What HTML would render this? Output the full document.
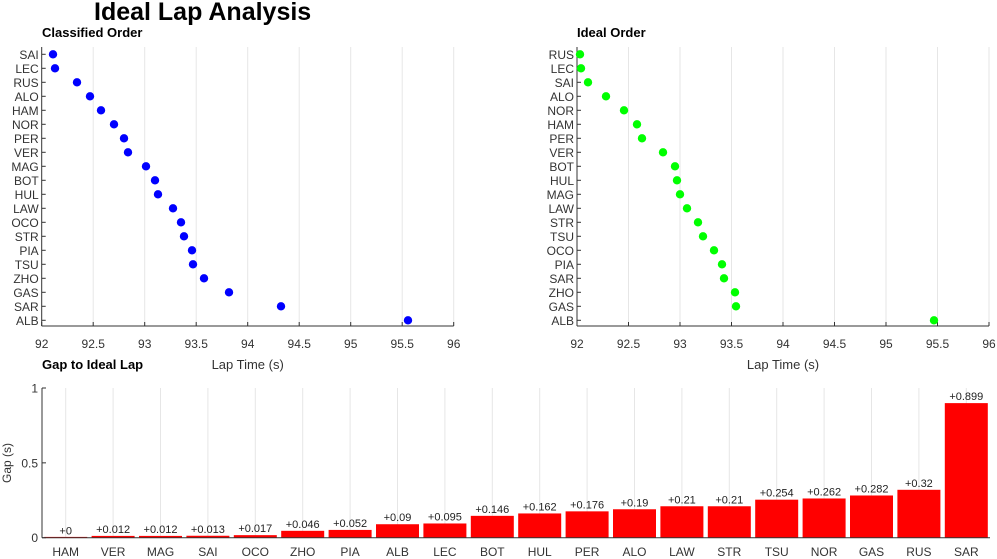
<!DOCTYPE html>
<html><head><meta charset="utf-8"><style>
html,body{margin:0;padding:0;background:#fff;}
svg{display:block;font-family:"Liberation Sans",sans-serif;}
</style></head><body>
<svg width="997" height="559" viewBox="0 0 997 559" xmlns="http://www.w3.org/2000/svg">
<rect width="997" height="559" fill="#fff"/>
<text x="94" y="20" font-size="25" font-weight="bold" fill="#000">Ideal Lap Analysis</text>
<text x="42" y="37" font-size="13" font-weight="bold" fill="#000">Classified Order</text>
<text x="577" y="37" font-size="13" font-weight="bold" fill="#000">Ideal Order</text>
<text x="42" y="369" font-size="13" font-weight="bold" fill="#000">Gap to Ideal Lap</text>
<g id="plots"></g>
</svg>
<script>
const NS="http://www.w3.org/2000/svg";
const g=document.getElementById('plots');
function el(t,a,txt){const e=document.createElementNS(NS,t);for(const k in a)e.setAttribute(k,a[k]);if(txt!==undefined)e.textContent=txt;g.appendChild(e);return e;}
function dot(x0,names,xs,color){
  const x92=x0, sc=103, top=47, bot=326;
  for(let i=1;i<=8;i++){const x=x92+i*sc/2;el('line',{x1:x,x2:x,y1:top,y2:bot,stroke:'#e6e6e6','stroke-width':1});}
  el('line',{x1:x92,x2:x92,y1:top,y2:bot,stroke:'#333'});
  el('line',{x1:x92,x2:x92+4*sc,y1:bot,y2:bot,stroke:'#333'});
  for(let i=0;i<=8;i++){const x=x92+i*sc/2;el('line',{x1:x,x2:x,y1:bot,y2:bot-4,stroke:'#333'});
    el('text',{x:x,y:348,'font-size':12,'text-anchor':'middle',fill:'#333'},String(92+i/2));}
  names.forEach((n,i)=>{const y=54.3+i*14.0;
    el('line',{x1:x92,x2:x92+4,y1:y,y2:y,stroke:'#333'});
    el('text',{x:x92-3,y:y+4.5,'font-size':12,'text-anchor':'end',fill:'#333'},n);
    el('circle',{cx:xs[i],cy:y,r:4.2,fill:color});});
  el('text',{x:x92+206,y:369,'font-size':13,'text-anchor':'middle',fill:'#333'},'Lap Time (s)');
}
dot(41.7,["SAI","LEC","RUS","ALO","HAM","NOR","PER","VER","MAG","BOT","HUL","LAW","OCO","STR","PIA","TSU","ZHO","GAS","SAR","ALB"],
 [53,55,77,90,101,114,124,128,146,155,158,173,181,184,192,193,204,229,281,408],'#0000ff');
dot(577,["RUS","LEC","SAI","ALO","NOR","HAM","PER","VER","BOT","HUL","MAG","LAW","STR","TSU","OCO","PIA","SAR","ZHO","GAS","ALB"],
 [580,581,588,606,624,637,642,663,675,677,680,687,698,703,714,722,724,735,736,934],'#00ff00');
const bn=["HAM","VER","MAG","SAI","OCO","ZHO","PIA","ALB","LEC","BOT","HUL","PER","ALO","LAW","STR","TSU","NOR","GAS","RUS","SAR"];
const bv=[0,0.012,0.012,0.013,0.017,0.046,0.052,0.09,0.095,0.146,0.162,0.176,0.19,0.21,0.21,0.254,0.262,0.282,0.32,0.899];
const L=42,R=990,y0=537.7,y1=388,step=(R-L)/20;
bn.forEach((n,i)=>{const x=L+(i+0.5)*step;el('line',{x1:x,x2:x,y1:y1,y2:y0,stroke:'#e6e6e6'});});
bn.forEach((n,i)=>{const x=L+(i+0.5)*step;const h=bv[i]*(y0-y1);
  el('rect',{x:x-21.5,y:y0-Math.max(h,0.8),width:43,height:Math.max(h,0.8),fill:'#ff0000'});
  el('text',{x:x,y:y0-h-3,'font-size':11,'text-anchor':'middle',fill:'#222'},'+'+bv[i]);
  el('text',{x:x,y:556,'font-size':12,'text-anchor':'middle',fill:'#333'},n);});
el('line',{x1:L,x2:L,y1:y1,y2:y0,stroke:'#333'});
el('line',{x1:L,x2:R,y1:y0,y2:y0,stroke:'#333'});
[[0,'0'],[0.5,'0.5'],[1,'1']].forEach(([v,t])=>{const y=y0-v*(y0-y1);
  el('line',{x1:L,x2:L+4,y1:y,y2:y,stroke:'#333'});
  el('text',{x:L-4,y:y+4.5,'font-size':12,'text-anchor':'end',fill:'#333'},t);});
el('text',{x:11,y:463,'font-size':12,'text-anchor':'middle',fill:'#333',transform:'rotate(-90 11 463)'},'Gap (s)');
</script>
</body></html>
